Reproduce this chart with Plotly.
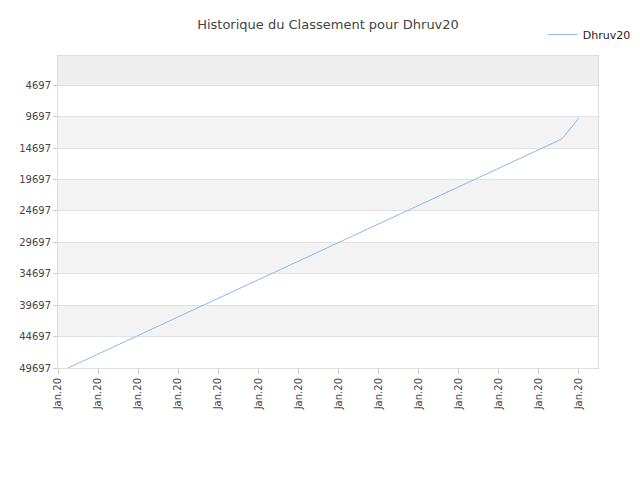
import plotly.graph_objects as go

x_idx = [0.25, 1, 2, 3, 4, 5, 6, 7, 8, 9, 10, 11, 12, 12.58, 13]
rank = [49697, 47482, 44528, 41574, 38620, 35666, 32712, 29758, 26804, 23850, 20896, 17942, 14988, 13250, 9967]
tick_vals = list(range(14))
tick_text = ["Jan.20"] * 14
y_ticks = [4697 + 5000 * i for i in range(10)]
y_text = [str(v) for v in y_ticks]

fig = go.Figure()
fig.add_trace(go.Scatter(x=x_idx, y=rank, mode="lines", name="Dhruv20",
                         line=dict(color="#8ab8ec", width=1)))

shapes = []
bands = [(50, 4697)] + [(y_ticks[i], y_ticks[i + 1]) for i in range(1, 9, 2)]
for k, (a, b) in enumerate(bands):
    shapes.append(dict(type="rect", xref="paper", yref="y", x0=0, x1=1, y0=a, y1=b,
                       fillcolor="#eeeeee" if k == 0 else "#f3f3f3", line_width=0, layer="below"))
fig.update_layout(
    width=640, height=480, plot_bgcolor="white", paper_bgcolor="white",
    margin=dict(l=50, r=40, t=40, b=120),
    title=dict(text="Historique du Classement pour Dhruv20", x=0.5, xanchor="center", y=0.975,
               font=dict(family="DejaVu Sans", size=13, color="#444")),
    font=dict(family="DejaVu Sans", size=10, color="#444"),
    shapes=shapes,
    showlegend=True,
    legend=dict(x=1.07, y=1.115, xanchor="right", yanchor="top", bgcolor="rgba(0,0,0,0)",
                font=dict(size=11, color="#222")),
    xaxis=dict(range=[0, 13.48], tickvals=tick_vals, ticktext=tick_text, tickangle=-90,
               showgrid=False, zeroline=False, showline=True, linecolor="#ddd",
               ticks="outside", tickcolor="#ccc", ticklen=5, mirror=True, automargin=False),
    yaxis=dict(range=[49697, 50], autorange=False, tickvals=y_ticks, ticktext=y_text,
               showgrid=True, gridcolor="#e2e2e2", zeroline=False, showline=True,
               linecolor="#ddd", mirror=True, ticks="outside", tickcolor="#ccc", ticklen=4,
               automargin=False),
)
fig.write_html("out.html")
